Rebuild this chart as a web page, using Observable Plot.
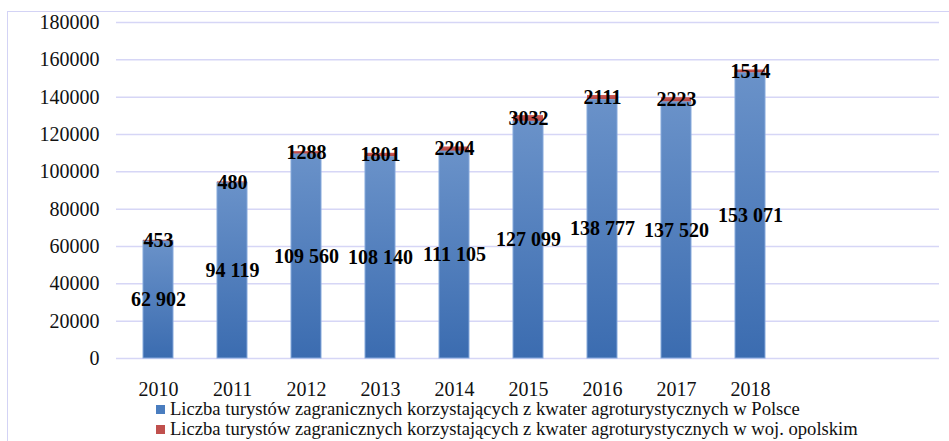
<!DOCTYPE html>
<html>
<head>
<meta charset="utf-8">
<script src="https://cdn.jsdelivr.net/npm/d3@7"></script>
<script src="https://cdn.jsdelivr.net/npm/@observablehq/plot@0.6"></script>
<style>
  body { margin: 0; background: #fff; font-family: "Liberation Serif", "Times New Roman", serif; }
  #wrap { position: relative; width: 949px; height: 441px; overflow: hidden; }
  #frame { position: absolute; left: 7px; top: 11px; width: 1200px; height: 1200px;
           border-top: 1.5px solid #d3d3f5; border-left: 1.5px solid #d3d3f5; pointer-events: none; }
  #chart { position: absolute; left: 0; top: 0; }
  #chart svg, #chart svg text { font-family: "Liberation Serif", "Times New Roman", serif !important; }
  #legend { position: absolute; left: 156px; top: 399px; font-size: 18.6px; color: #111; }
  .li { display: flex; align-items: center; height: 20px; white-space: nowrap; }
  .sw { width: 9px; height: 9px; margin-right: 5px; flex: none; }
</style>
</head>
<body>
<div id="wrap">
  <div id="chart"></div>
  <div id="frame"></div>
  <div id="legend"></div>
</div>
<script>
// ---- data ----
const years = ["2010", "2011", "2012", "2013", "2014", "2015", "2016", "2017", "2018"];
const emptySlots = ["", " "];
const poland = [62902, 94119, 109560, 108140, 111105, 127099, 138777, 137520, 153071];
const opolskie = [453, 480, 1288, 1801, 2204, 3032, 2111, 2223, 1514];
const seriesNames = [
  "Liczba turystów zagranicznych korzystających z kwater agroturystycznych w Polsce",
  "Liczba turystów zagranicznych korzystających z kwater agroturystycznych w woj. opolskim"
];
const yTicks = [0, 20000, 40000, 60000, 80000, 100000, 120000, 140000, 160000, 180000];

// ---- table ----
const rows = [];
years.forEach((yr, i) => {
  rows.push({ year: yr, series: 0, value: poland[i] });
  rows.push({ year: yr, series: 1, value: opolskie[i] });
});

const fills = ["url(#gBlue)", "url(#gRed)"];
const strokes = ["#86a9dc", "none"];
const spaceFmt = d3.formatLocale({ decimal: ",", thousands: " ", grouping: [3], currency: ["", ""] }).format(",d");
const labelText = d => d.series === 0 ? spaceFmt(d.value) : String(d.value);
const serif = "'Liberation Serif', 'Times New Roman', serif";

const plot = Plot.plot({
  width: 949,
  height: 399,
  marginLeft: 116,
  marginRight: 10,
  marginTop: 22,
  marginBottom: 41,
  style: { fontFamily: serif, color: "#111", background: "transparent", overflow: "visible" },
  x: { domain: [...years, ...emptySlots], paddingInner: 0.6, paddingOuter: 0.3, label: null },
  y: { domain: [0, 180000], label: null },
  color: { type: "identity" },
  marks: [
    Plot.ruleY(yTicks, { stroke: "#d6d6f6", strokeWidth: 1.5 }),
    Plot.barY(rows, Plot.stackY({
      x: "year", y: "value", z: "series",
      fill: d => fills[d.series], stroke: d => strokes[d.series], strokeWidth: 1
    })),
    Plot.text(rows, Plot.stackY({
      x: "year", y: "value", z: "series", text: labelText,
      fontSize: 20, fontWeight: "bold", fill: "#000", fontFamily: serif
    })),
    Plot.axisY({ ticks: yTicks, tickSize: 0, tickPadding: 17, fontSize: 20, fontFamily: serif, tickFormat: d => String(d), label: null }),
    Plot.axisX({ tickSize: 0, tickPadding: 23, fontSize: 20, fontFamily: serif, label: null })
  ]
});

const defs = d3.select(plot).insert("defs", ":first-child");
const gb = defs.append("linearGradient").attr("id", "gBlue").attr("x1", 0).attr("y1", 0).attr("x2", 0).attr("y2", 1);
gb.append("stop").attr("offset", "0%").attr("stop-color", "#6a92c9");
gb.append("stop").attr("offset", "100%").attr("stop-color", "#3b6cb0");
const gr = defs.append("linearGradient").attr("id", "gRed").attr("x1", 0).attr("y1", 0).attr("x2", 0).attr("y2", 1);
gr.append("stop").attr("offset", "0%").attr("stop-color", "#cd5b58");
gr.append("stop").attr("offset", "100%").attr("stop-color", "#b5433f");

document.getElementById("chart").appendChild(plot);

// ---- legend ----
const swatchColors = ["#4a7dbf", "#c0504d"];
const legend = document.getElementById("legend");
seriesNames.forEach((name, i) => {
  const li = document.createElement("div");
  li.className = "li";
  const sw = document.createElement("span");
  sw.className = "sw";
  sw.style.background = swatchColors[i];
  const tx = document.createElement("span");
  tx.textContent = name;
  li.appendChild(sw);
  li.appendChild(tx);
  legend.appendChild(li);
});
</script>
</body>
</html>
